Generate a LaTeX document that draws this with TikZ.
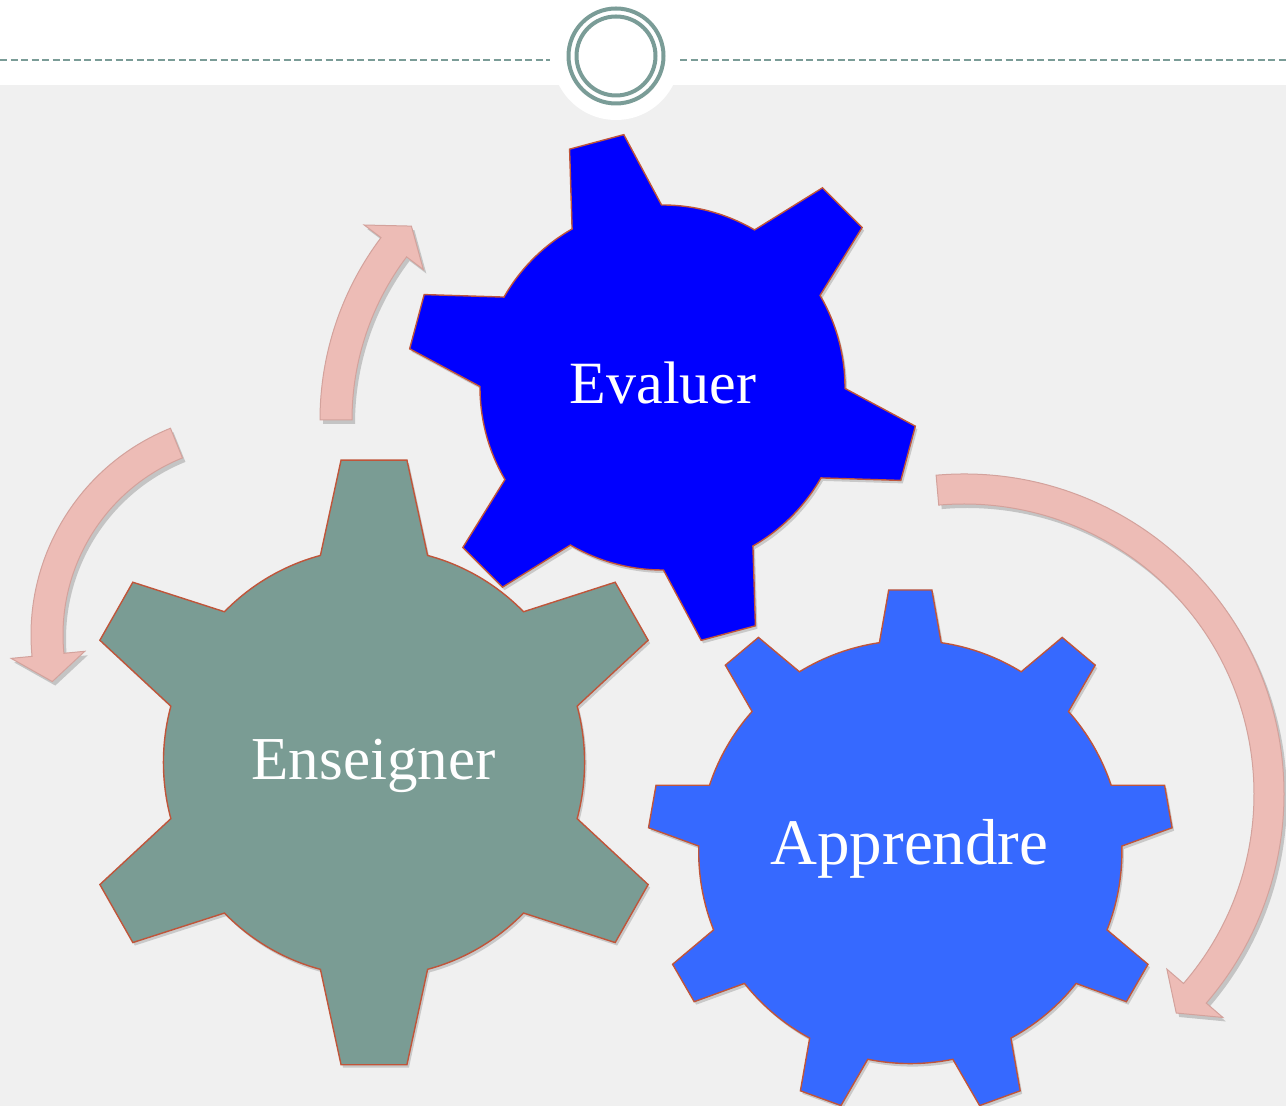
\documentclass[tikz,border=0pt]{standalone}
\usepackage{fontspec}
\setmainfont{Liberation Serif}
\usetikzlibrary{shadows}
\definecolor{bgray}{HTML}{F0F0F0}
\definecolor{ringc}{HTML}{7A9C97}
\definecolor{ensc}{HTML}{7A9C94}
\definecolor{evac}{HTML}{0000FF}
\definecolor{appc}{HTML}{3669FF}
\definecolor{gearline}{HTML}{C0553A}
\definecolor{arrfill}{HTML}{EDBCB6}
\definecolor{arrline}{HTML}{D3A29C}
% #1 cx, #2 cy, #3 teeth, #4 first angle, #5 body r, #6 base half angle, #7 tip corner r, #8 tip half angle, #9 fill
\newcommand{\drawgear}[9]{%
  \path[gearshape, fill=#9, shift={(#1,#2)}, xscale=\gearxs]
    (#4-#6:#5)
    \foreach \k [evaluate=\k as \t using #4+(\k-1)*360/#3] in {1,...,#3} {
      -- (\t-#8:#7) -- (\t+#8:#7) -- (\t+#6:#5)
      arc[start angle=\t+#6, end angle=\t+360/#3-#6, radius=#5]
    } -- cycle;}
% #1 cx, #2 cy, #3 r outer, #4 r inner, #5 barb out, #6 barb in, #7 r mid, #8 tail angle, #9 notch angle
\newcommand{\drawcarrow}[9]{%
  \path[arrowshape, shift={(#1,#2)}]
    (#8:#3) arc[start angle=#8, end angle=#9, radius=#3]
    -- (#9:#5) -- (\tipangle:#7) -- (#9:#6) -- (#9:#4)
    arc[start angle=#9, end angle=#8, radius=#4] -- cycle;}
\begin{document}
\begin{tikzpicture}[x=1pt,y=1pt,
  gearshape/.style={draw=gearline, line width=1.4pt, line join=miter,
    drop shadow={shadow xshift=2pt, shadow yshift=-3pt, opacity=0.16, fill=black}},
  arrowshape/.style={fill=arrfill, draw=arrline, line width=1pt, line join=miter,
    drop shadow={shadow xshift=3pt, shadow yshift=-4pt, opacity=0.18, fill=black}},
  lbl/.style={text=white, inner sep=0pt, anchor=base}]
\useasboundingbox (0,0) rectangle (1286,1106);
% background
\fill[bgray] (0,0) rectangle (1286,1021);
\fill[white] (0,1021) rectangle (1286,1106);
\fill[white] (616,1050) circle[radius=64];
\draw[ringc, line width=1.3pt, dash pattern=on 7pt off 3.5pt] (0,1046) -- (550,1046);
\draw[ringc, line width=1.3pt, dash pattern=on 7pt off 3.5pt] (680,1046) -- (1286,1046);
\draw[ringc, line width=4pt] (616,1050) circle[radius=47.5];
\draw[ringc, line width=4pt] (616,1050) circle[radius=39.5];
% arrows
\def\tipangle{137.5}
\drawcarrow{623}{686}{303}{271}{324}{250}{287}{180}{143}
\def\tipangle{193}
\drawcarrow{254}{471}{223}{191}{244}{170}{207}{112}{185.5}
\def\tipangle{-45.9}
\drawcarrow{964}{312}{320}{290}{342}{268}{305}{95}{-40.8}
% gears
\def\gearxs{0.984}
\drawgear{374}{343.6}{6}{90}{214}{14.75}{304.2}{6.32}{ensc}
\def\gearxs{1}
\drawgear{910.3}{254}{9}{90}{211.6}{8.4}{262.9}{4.71}{appc}
\drawgear{662.5}{718.5}{6}{105}{182.5}{14.7}{255.8}{6.3}{evac}
% labels
\node[lbl, font=\fontsize{61}{70}\selectfont] (enseigner) at (373.5,326) {Enseigner};
\node[lbl, font=\fontsize{65}{75}\selectfont] (apprendre) at (909.5,241) {Apprendre};
\node[lbl, font=\fontsize{60}{70}\selectfont] (evaluer) at (663,702) {Evaluer};
\end{tikzpicture}
\end{document}
